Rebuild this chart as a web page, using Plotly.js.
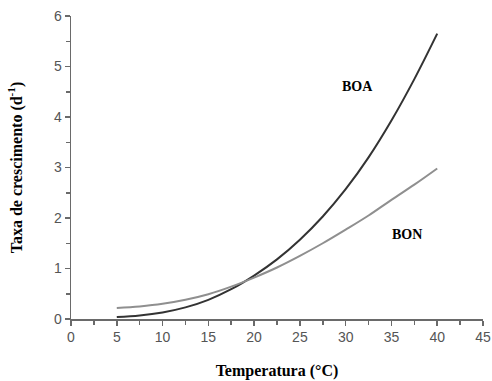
<!DOCTYPE html>
<html>
<head>
<meta charset="utf-8">
<script src="https://cdn.plot.ly/plotly-3.0.1.min.js"></script>
<style>html,body{margin:0;padding:0;background:#fff;}#chart{width:492px;height:381px;}</style>
</head>
<body>
<div id="chart"></div>
<script>
const temperature = [5, 7.5, 10, 12.5, 15, 17.5, 20, 22.5, 25, 27.5, 30, 32.5, 35, 37.5, 40];
const boa = [0.04, 0.07, 0.13, 0.23, 0.38, 0.59, 0.86, 1.18, 1.57, 2.03, 2.57, 3.2, 3.93, 4.75, 5.65];
const bon = [0.22, 0.25, 0.30, 0.38, 0.49, 0.64, 0.82, 1.02, 1.25, 1.5, 1.77, 2.05, 2.36, 2.66, 2.98];
const labels = [
  {text: 'BOA', x: 31.3, y: 4.6},
  {text: 'BON', x: 36.7, y: 1.68}
];

const serif = '"Liberation Serif", "Times New Roman", serif';
const sans = 'Arial, "Liberation Sans", sans-serif';

const traces = [
  {x: temperature, y: boa, mode: 'lines', name: 'BOA', line: {color: '#333333', width: 2, shape: 'spline'}},
  {x: temperature, y: bon, mode: 'lines', name: 'BON', line: {color: '#8f8f8f', width: 2, shape: 'spline'}}
];

const axisCommon = {
  showgrid: false, zeroline: false, showline: true, linecolor: '#6a6a6a', linewidth: 1.5,
  ticks: 'outside', ticklen: 5, tickcolor: '#6a6a6a', tickwidth: 1.5,
  tickfont: {family: sans, size: 14, color: '#555'}
};

const layout = {
  width: 492, height: 381,
  margin: {l: 71, r: 9, t: 16, b: 62},
  paper_bgcolor: '#fff', plot_bgcolor: '#fff',
  showlegend: false,
  xaxis: Object.assign({}, axisCommon, {
    range: [0, 45], tickmode: 'linear', tick0: 0, dtick: 5,
    minor: {tickmode: 'linear', tick0: 0, dtick: 2.5, ticks: 'outside', ticklen: 4, tickcolor: '#6a6a6a', tickwidth: 1.5, showgrid: false},
    title: {text: 'Temperatura (°C)', font: {family: serif, size: 16, color: '#000', weight: 'bold'}, standoff: 20}
  }),
  yaxis: Object.assign({}, axisCommon, {
    range: [0, 6], tickmode: 'linear', tick0: 0, dtick: 1,
    minor: {tickmode: 'linear', tick0: 0, dtick: 0.5, ticks: 'outside', ticklen: 4, tickcolor: '#6a6a6a', tickwidth: 1.5, showgrid: false},
    title: {text: 'Taxa de crescimento (d<sup>-1</sup>)', font: {family: serif, size: 16, color: '#000', weight: 'bold'}, standoff: 27}
  }),
  annotations: labels.map(l => ({
    text: '<b>' + l.text + '</b>', x: l.x, y: l.y, xref: 'x', yref: 'y', showarrow: false,
    font: {family: serif, size: 14, color: '#000'}
  }))
};

Plotly.newPlot('chart', traces, layout, {displayModeBar: false, staticPlot: true});
</script>
</body>
</html>
